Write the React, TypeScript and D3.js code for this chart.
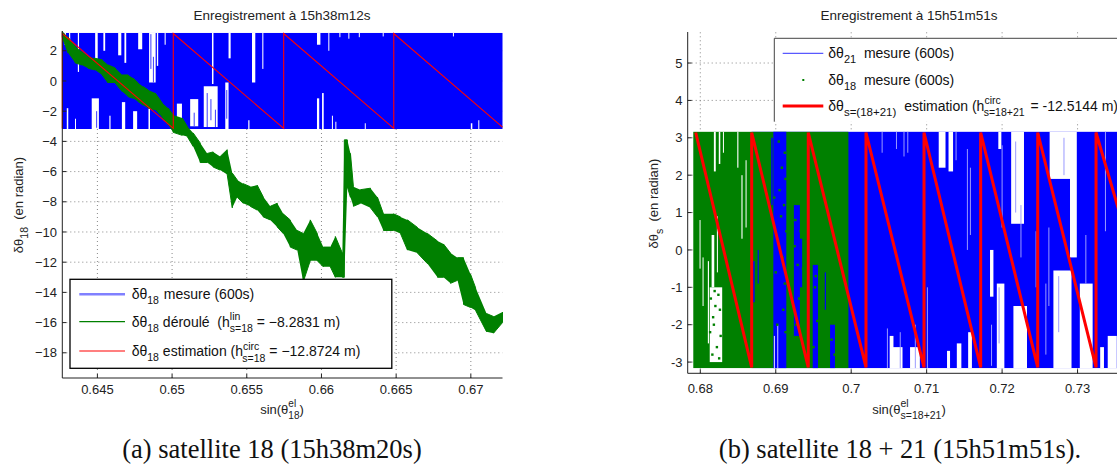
import React from "react";
import * as d3 from "d3";

// ---------------- Data ----------------
// Left panel (satellite 18)
const leftXTicks = [0.645, 0.65, 0.655, 0.66, 0.665, 0.67];
const leftXTickLabels = ["0.645", "0.65", "0.655", "0.66", "0.665", "0.67"];
const leftYTicks = [2, 0, -2, -4, -6, -8, -10, -12, -14, -16, -18];

const leftBlueX = [0.64265, 0.67212];
const leftBlueY = [-3.18, 3.18];
// white gaps in the wrapped measurement: [x0, x1, low, high]
const leftBlueGaps: number[][] = [
  [0.64279, 0.6429, 2.4, 3.4], [0.6431, 0.64318, 2.7, 3.4], [0.64369, 0.64377, 0.6, 3.4],
  [0.64485, 0.64502, 1.3, 3.4], [0.6454, 0.64552, 2.0, 3.4], [0.64639, 0.6466, 1.7, 3.4],
  [0.64681, 0.64693, 1.2, 3.4], [0.64773, 0.648, 2.1, 3.4], [0.64846, 0.6489, -0.1, 3.4],
  [0.64898, 0.64907, 1.0, 3.4], [0.6495, 0.64957, 2.4, 3.4],
  [0.64295, 0.64305, -3.4, -1.8], [0.64462, 0.6451, -3.4, -1.15], [0.64664, 0.64686, -3.4, -1.4],
  [0.64739, 0.64766, -3.4, -2.0], [0.64842, 0.64852, -3.4, -1.6], [0.6458, 0.64588, -3.4, -2.3],
  [0.6435, 0.64356, -3.4, -2.5], [0.65032, 0.65066, -3.4, -1.5], [0.65121, 0.65175, -3.0, -1.2],
  [0.65212, 0.65305, -3.05, -0.35], [0.65267, 0.65277, -0.2, 3.4], [0.65356, 0.65378, -3.4, -0.1],
  [0.65378, 0.65392, 1.5, 3.4], [0.65535, 0.65557, -0.1, 3.4], [0.6551, 0.65518, -3.4, -2.6],
  [0.65604, 0.65611, 0.8, 3.4], [0.6597, 0.65993, 2.4, 3.4], [0.66046, 0.6605, 2.0, 3.4],
  [0.6597, 0.65985, -3.4, -1.15], [0.66004, 0.66015, -3.4, -0.8], [0.6607, 0.66075, -3.4, -2.3],
  [0.66093, 0.66098, -3.4, -2.7], [0.6618, 0.66185, 2.8, 3.4], [0.6629, 0.66295, -3.4, -2.8],
  [0.67, 0.6701, -3.4, -2.8], [0.6705, 0.67055, -3.4, -2.6], [0.6612, 0.66125, 2.9, 3.4],
  [0.6625, 0.66255, 2.9, 3.4], [0.6641, 0.66415, 2.95, 3.4], [0.6688, 0.66885, 2.95, 3.4],
];
// thin bluish streaks inside the white gaps
const leftBlueStreaks: number[][] = [
  [0.65235, -3.05, -0.8], [0.6526, -2.6, -1.2], [0.6529, -3.05, -1.9], [0.64858, 0.8, 3.1],
  [0.64875, -0.1, 1.6], [0.64495, -3.1, -2.0], [0.65148, -3.0, -2.1], [0.65366, -2.5, -0.6],
];

// unwrapped phase (green), envelope of the noisy trace
const leftGreenX = [
  0.64265, 0.64304, 0.64351, 0.64395, 0.64438, 0.64485, 0.64532, 0.64572, 0.64619, 0.64666,
  0.64706, 0.6474, 0.64773, 0.64807, 0.6484, 0.64887, 0.64934, 0.64974, 0.65007, 0.65068,
  0.65101, 0.65141, 0.65188, 0.65235, 0.65275, 0.65322, 0.65369, 0.65403, 0.65436, 0.65476,
  0.65523, 0.6557, 0.6561, 0.65657, 0.65704, 0.65744, 0.65791, 0.65838, 0.65878, 0.65925,
  0.65972, 0.66012, 0.66059, 0.66093, 0.6614, 0.66153, 0.66173, 0.66194, 0.66214, 0.66261,
  0.66328, 0.66375, 0.66415, 0.66482, 0.66529, 0.66576, 0.66643, 0.6671, 0.66777, 0.66817,
  0.66864, 0.66911, 0.66951, 0.66998, 0.67032, 0.67105, 0.67152, 0.67212,
];
const leftGreenLo = [
  2.9, 1.85, 1.2, 1.06, 0.84, 0.73, 0.4, -0.13, -0.13, -0.7,
  -1.04, -1.15, -1.37, -1.6, -1.8, -1.9, -2.4, -2.9, -3.4, -3.6,
  -3.67, -4.33, -5.4, -5.4, -5.7, -5.9, -6.2, -8.4, -7.7, -8.1,
  -8.3, -8.55, -9.0, -9.2, -9.67, -10.1, -11.0, -11.2, -13.3, -11.9,
  -11.9, -12.3, -12.3, -13.0, -13.0, -13.0, -7.0, -7.7, -8.3, -8.1,
  -8.4, -9.0, -9.9, -9.9, -10.1, -11.2, -11.4, -12.1, -13.0, -13.0,
  -13.4, -13.2, -14.8, -15.0, -15.2, -16.6, -16.7, -16.0,
];
const leftGreenHi = [
  3.3, 2.9, 2.3, 1.94, 1.6, 1.5, 1.4, 1.06, 0.86, 0.4,
  0.4, 0.18, -0.13, -0.38, -0.6, -0.8, -1.46, -1.8, -2.25, -2.45,
  -3.0, -3.44, -4.1, -4.8, -4.7, -5.0, -4.55, -6.1, -6.55, -6.8,
  -7.0, -6.9, -7.67, -8.3, -8.1, -8.8, -9.2, -9.9, -10.1, -9.2,
  -10.1, -11.0, -11.0, -10.3, -11.4, -3.9, -3.9, -4.8, -7.0, -7.2,
  -7.1, -7.7, -8.8, -8.8, -9.0, -9.2, -9.7, -10.1, -10.6, -10.8,
  -11.4, -11.7, -11.7, -12.8, -13.7, -15.4, -15.6, -15.3,
];

// circular estimation (red sawtooth), vertices
const leftRedX = [0.64265, 0.64265, 0.65008, 0.65008, 0.65747, 0.65747, 0.66484, 0.66484, 0.67212];
const leftRedY = [-3.1416, 3.1416, -3.1416, 3.1416, -3.1416, 3.1416, -3.1416, 3.1416, -3.06];

// Right panel (satellites 18 + 21)
const rightXTicks = [0.68, 0.69, 0.7, 0.71, 0.72, 0.73];
const rightXTickLabels = ["0.68", "0.69", "0.7", "0.71", "0.72", "0.73"];
const rightYTicks = [-3, -2, -1, 0, 1, 2, 3, 4, 5];

const rightBlueX = [0.6868, 0.7365];
const rightBlueY = [-3.16, 3.16];
const rightGreenX = [0.67907, 0.69963];
const rightGreenY = [-3.16, 3.16];

const rightGreenWhiteHoles: number[][] = [
  [0.68125, 0.6829, -3.0, -1.0], [0.6815, 0.68185, -1.0, 0.4], [0.681, 0.68115, -2.5, -0.3],
  [0.6799, 0.68, -0.5, 0.8], [0.6803, 0.6804, -1.5, -0.2], [0.6818, 0.68205, 2.1, 3.2],
  [0.68245, 0.68265, 2.3, 3.2], [0.6849, 0.68505, 2.2, 3.2], [0.68545, 0.6856, 0.3, 2.0],
  [0.686, 0.68612, 0.6, 2.4], [0.683, 0.6831, 2.6, 3.2], [0.6822, 0.6823, -0.6, 0.9],
];
const rightGreenBlueHoles: number[][] = [
  [0.68968, 0.6914, -3.16, 3.16], [0.687, 0.6872, -1.4, -0.3], [0.6876, 0.68775, -0.9, 0.0],
  [0.6924, 0.6932, -2.3, 1.2], [0.6932, 0.6935, -1.0, 0.3], [0.6949, 0.6956, -3.16, -0.4],
  [0.6972, 0.69785, -3.16, -2.0], [0.6965, 0.69665, -1.6, -0.6], [0.6894, 0.6896, 1.2, 3.0],
];
const rightGreenSpecksX = [
  0.6912, 0.6913, 0.6911, 0.6914, 0.6909, 0.6912, 0.691, 0.6913, 0.6907, 0.6904, 0.69,
  0.6926, 0.6929, 0.6931, 0.6927, 0.6925, 0.6933, 0.6952, 0.6955, 0.695, 0.6974, 0.6978,
  0.6905, 0.6902, 0.6916, 0.6908, 0.6898, 0.6921, 0.6936, 0.6953,
  0.6814, 0.6818, 0.6822, 0.6826, 0.6816, 0.6824, 0.682, 0.6827, 0.6813, 0.6819, 0.6825, 0.6817,
];
const rightGreenSpecksY = [
  2.6, 1.9, 1.2, 0.5, -0.2, -0.9, -1.6, -2.2, 0.9, 2.9, -0.6,
  0.8, -0.4, -1.3, -2.0, 0.1, 0.5, -1.0, -1.9, -2.6, -2.4, -2.8,
  1.6, -2.0, -0.3, 2.2, 1.4, -1.7, -0.5, -0.7,
  -1.3, -2.0, -2.6, -1.6, -2.8, -1.2, -1.5, -2.3, -2.2, -1.1, -2.9, -1.8,
];
const rightBlueGaps: number[][] = [
  [0.7054, 0.7068, -3.2, -2.6], [0.7051, 0.7056, -3.2, -2.3], [0.7078, 0.7091, -3.2, -2.6],
  [0.7116, 0.7125, 2.2, 3.2], [0.7127, 0.7131, -3.2, -2.7], [0.7129, 0.7135, 2.1, 3.2],
  [0.714, 0.7146, -3.2, -2.5], [0.7155, 0.716, -3.2, -2.2], [0.7184, 0.71885, -1.25, 0.0],
  [0.7193, 0.7203, -3.2, -0.9], [0.7195, 0.7199, 2.7, 3.2], [0.7212, 0.7229, 0.7, 3.2],
  [0.7215, 0.7233, -3.2, -1.5], [0.7263, 0.729, 1.9, 3.2], [0.729, 0.7299, -0.2, 3.2],
  [0.7268, 0.7292, -3.2, -0.55], [0.7303, 0.732, -3.2, -0.9], [0.733, 0.7335, -3.2, -2.6],
  [0.734, 0.7352, -3.2, -2.3], [0.68975, 0.6899, -3.2, -2.3], [0.6902, 0.6903, -3.2, -2.0],
];
const rightBlueLight: number[][] = [
  [0.7154, 0.0, 2.7], [0.7158, 0.4, 2.2], [0.7171, 1.5, 3.1], [0.7186, -3.1, -2.0],
  [0.72, 0.6, 2.8], [0.7245, -1.0, 0.5], [0.7258, -2.8, -0.9], [0.707, 2.5, 3.16],
  [0.7075, 2.6, 3.16], [0.706, 2.7, 3.16], [0.7065, -3.16, -2.2], [0.7085, -3.16, -2.0],
  [0.7101, -3.16, -1.0], [0.7041, 2.6, 3.16], [0.7048, -3.16, -2.1], [0.7262, -1.5, 0.6],
  [0.7311, -0.9, 0.4], [0.7337, 0.5, 3.16], [0.7225, -0.2, 1.2], [0.7139, 2.4, 3.16],
  [0.7218, 1.0, 2.9], [0.7275, -2.2, -0.7], [0.7282, 2.0, 3.0], [0.7196, -2.5, -1.0],
];

const rightRedX = [0.67939, 0.68681, 0.68681, 0.69431, 0.69431, 0.70196, 0.70196, 0.70965, 0.70965,
  0.71716, 0.71716, 0.72472, 0.72472, 0.73245, 0.73245, 0.7365];
const rightRedY = [3.1416, -3.1416, 3.1416, -3.1416, 3.1416, -3.1416, 3.1416, -3.1416, 3.1416,
  -3.1416, 3.1416, -3.1416, 3.1416, -3.1416, 3.1416, 0.35];

// ---------------- Component ----------------
const SANS = "'Liberation Sans', Arial, Helvetica, sans-serif";
const SERIF = "'Liberation Serif', 'Times New Roman', serif";
const BLUE = "#0000ff";
const GREEN = "#008000";
const RED = "#ff0000";
const SP = "\u00a0";

export default function App() {
  const xL = d3.scaleLinear().domain([0.64265, 0.67212]).range([62.3, 502.5]);
  const yL = d3.scaleLinear().domain([-19.67, 3.31]).range([378, 31]);
  const xR = d3.scaleLinear().domain([0.67833, 0.7365]).range([687.7, 687.7 + (0.7365 - 0.67833) * 7545]);
  const yR = d3.scaleLinear().domain([-3.3, 5.83]).range([373.3, 32]);

  const rectFrom = (xs: any, ys: any, g: number[], lo: number, hi: number, fill: string, key: string) => {
    const a = Math.max(g[2], lo);
    const b = Math.min(g[3], hi);
    const x0 = xs(g[0]);
    const w = Math.max(1, xs(g[1]) - x0);
    return <rect key={key} x={x0} y={ys(b)} width={w} height={Math.max(0, ys(a) - ys(b))} fill={fill} />;
  };

  // green envelope + zigzag trace
  const greenPts = leftGreenX.map((x, i) => ({ x, lo: leftGreenLo[i], hi: leftGreenHi[i] }));
  const greenArea = d3.area<any>().x((d) => xL(d.x)).y0((d) => yL(d.lo)).y1((d) => yL(d.hi))(greenPts) || "";
  const zig: [number, number][] = [];
  greenPts.forEach((d, i) => {
    if (i % 2 === 0) { zig.push([xL(d.x), yL(d.hi)]); zig.push([xL(d.x), yL(d.lo)]); }
    else { zig.push([xL(d.x), yL(d.lo)]); zig.push([xL(d.x), yL(d.hi)]); }
  });
  const zigPath = d3.line()(zig) || "";

  const redLPath = d3.line<number>().x((_, i) => xL(leftRedX[i])).y((v) => yL(v))(leftRedY) || "";
  const redRPath = d3.line<number>().x((_, i) => xR(rightRedX[i])).y((v) => yR(v))(rightRedY) || "";

  const grid = { stroke: "#7a7a7a", strokeWidth: 0.9, strokeDasharray: "1,3" };
  const LX0 = xL.range()[0], LX1 = xL.range()[1], LY0 = yL.range()[0], LY1 = yL.range()[1];
  const RX0 = xR.range()[0], RX1 = 1117, RY0 = yR.range()[0], RY1 = yR.range()[1];

  return (
    <svg width={1117} height={469} viewBox="0 0 1117 469"
      style={{ position: "absolute", left: 0, top: 0, background: "#fff" }}
      fontFamily={SANS}>
      <rect x={0} y={0} width={1117} height={469} fill="#fff" />

      {/* ======== LEFT PANEL ======== */}
      <g>
        {leftXTicks.map((t, i) => (
          <line key={"lgx" + i} x1={xL(t)} x2={xL(t)} y1={LY0} y2={LY1} {...grid} />
        ))}
        {leftYTicks.map((t, i) => (
          <line key={"lgy" + i} x1={LX0} x2={LX1} y1={yL(t)} y2={yL(t)} {...grid} />
        ))}
        <rect x={xL(leftBlueX[0])} width={xL(leftBlueX[1]) - xL(leftBlueX[0])}
          y={yL(leftBlueY[1])} height={yL(leftBlueY[0]) - yL(leftBlueY[1])} fill={BLUE} />
        {leftBlueGaps.map((g, i) => rectFrom(xL, yL, g, leftBlueY[0], leftBlueY[1], "#fff", "lbg" + i))}
        {leftBlueStreaks.map((g, i) => (
          <line key={"lbs" + i} x1={xL(g[0])} x2={xL(g[0])} y1={yL(g[1])} y2={yL(g[2])} stroke="#3a3aff" strokeWidth={1} />
        ))}
        <path d={greenArea} fill={GREEN} stroke="none" />
        <path d={zigPath} fill="none" stroke={GREEN} strokeWidth={1} />
        <path d={redLPath} fill="none" stroke={RED} strokeWidth={1.1} />

        {/* axes */}
        <line x1={LX0} x2={LX0} y1={LY1} y2={LY0} stroke="#222" strokeWidth={1} />
        <line x1={LX0} x2={LX1} y1={LY0} y2={LY0} stroke="#222" strokeWidth={1} />
        {leftXTicks.map((t, i) => (
          <g key={"lxt" + i}>
            <line x1={xL(t)} x2={xL(t)} y1={LY0} y2={LY0 - 4} stroke="#222" />
            <text x={xL(t)} y={394} textAnchor="middle" fontSize={13} fill="#222">{leftXTickLabels[i]}</text>
          </g>
        ))}
        {leftYTicks.map((t, i) => (
          <g key={"lyt" + i}>
            <line x1={LX0} x2={LX0 + 4} y1={yL(t)} y2={yL(t)} stroke="#222" />
            <text x={57} y={yL(t)} dy="0.36em" textAnchor="end" fontSize={13} fill="#222">
              {t < 0 ? "\u2212" + Math.abs(t) : String(t)}
            </text>
          </g>
        ))}

        <text x={282} y={20} textAnchor="middle" fontSize={13.5} fill="#222">Enregistrement à 15h38m12s</text>
        <text x={282} y={414} textAnchor="middle" fontSize={13} fill="#222">
          sin(θ<tspan fontSize={10} dy={-7}>el</tspan><tspan fontSize={10} dx={-7.8} dy={12}>18</tspan><tspan dy={-5}>)</tspan>
        </text>
        <text transform="translate(23,205) rotate(-90)" textAnchor="middle" fontSize={13} fill="#222">
          δθ<tspan fontSize={10.5} dy={5}>18</tspan><tspan dy={-5}>{SP + SP + "(en radian)"}</tspan>
        </text>

        {/* legend */}
        <rect x={70} y={279.3} width={321.8} height={89} fill="#fff" stroke="#000" strokeWidth={1.3} />
        <line x1={79.3} x2={125} y1={294.3} y2={294.3} stroke="#8080ff" strokeWidth={2.5} />
        <line x1={79.3} x2={125} y1={321.7} y2={321.7} stroke={GREEN} strokeWidth={1.2} />
        <line x1={79.3} x2={125} y1={351} y2={351} stroke={RED} strokeWidth={1.1} />
        <g fontSize={14} fill="#111">
          <text x={131.7} y={299}>
            δθ<tspan fontSize={10.5} dy={5}>18</tspan><tspan dy={-5} dx={1}>{SP + "mesure (600s)"}</tspan>
          </text>
          <text x={131.7} y={326.5}>
            δθ<tspan fontSize={10.5} dy={5}>18</tspan><tspan dy={-5}>{SP + "déroulé" + SP + SP + "(h"}</tspan>
            <tspan fontSize={10.5} dy={-6.5}>lin</tspan>
            <tspan fontSize={10.5} dx={-10.5} dy={12}>s=18</tspan>
            <tspan dy={-5.5}>{SP + "=" + SP + "\u22128.2831 m)"}</tspan>
          </text>
          <text x={131.7} y={356}>
            δθ<tspan fontSize={10.5} dy={5}>18</tspan><tspan dy={-5}>{SP + "estimation (h"}</tspan>
            <tspan fontSize={10.5} dy={-6.5}>circ</tspan>
            <tspan fontSize={10.5} dx={-17} dy={12}>s=18</tspan>
            <tspan dy={-5.5}>{SP + "=" + SP + "\u221212.8724 m)"}</tspan>
          </text>
        </g>
      </g>

      {/* ======== RIGHT PANEL ======== */}
      <g>
        {rightXTicks.map((t, i) => (
          <line key={"rgx" + i} x1={xR(t)} x2={xR(t)} y1={RY0} y2={RY1} {...grid} />
        ))}
        {rightYTicks.map((t, i) => (
          <line key={"rgy" + i} x1={RX0} x2={RX1} y1={yR(t)} y2={yR(t)} {...grid} />
        ))}
        <rect x={xR(rightBlueX[0])} width={xR(rightBlueX[1]) - xR(rightBlueX[0])}
          y={yR(rightBlueY[1])} height={yR(rightBlueY[0]) - yR(rightBlueY[1])} fill={BLUE} />
        {rightBlueGaps.map((g, i) => rectFrom(xR, yR, g, rightBlueY[0], rightBlueY[1], "#fff", "rbg" + i))}
        {rightBlueLight.map((g, i) => (
          <line key={"rbl" + i} x1={xR(g[0])} x2={xR(g[0])} y1={yR(g[1])} y2={yR(g[2])} stroke="#9a9aff" strokeWidth={1} />
        ))}
        <rect x={xR(rightGreenX[0])} width={xR(rightGreenX[1]) - xR(rightGreenX[0])}
          y={yR(rightGreenY[1])} height={yR(rightGreenY[0]) - yR(rightGreenY[1])} fill={GREEN} />
        {rightGreenWhiteHoles.map((g, i) => rectFrom(xR, yR, g, rightGreenY[0], rightGreenY[1], "#fff", "rgw" + i))}
        {rightGreenBlueHoles.map((g, i) => rectFrom(xR, yR, g, rightGreenY[0], rightGreenY[1], BLUE, "rgb" + i))}
        {rightBlueGaps.filter((g) => g[0] < rightGreenX[1]).map((g, i) =>
          rectFrom(xR, yR, g, rightBlueY[0], rightBlueY[1], "#c8c8ff", "rbg2" + i))}
        {rightGreenSpecksX.map((x, i) => (
          <rect key={"rgs" + i} x={xR(x) - 1.2} y={yR(rightGreenSpecksY[i]) - 1.2} width={2.4} height={2.4} fill={GREEN} />
        ))}
        <path d={redRPath} fill="none" stroke={RED} strokeWidth={3} />

        <line x1={RX0} x2={RX0} y1={RY1} y2={RY0} stroke="#222" strokeWidth={1} />
        <line x1={RX0} x2={RX1} y1={RY0} y2={RY0} stroke="#222" strokeWidth={1} />
        {rightXTicks.map((t, i) => (
          <g key={"rxt" + i}>
            <line x1={xR(t)} x2={xR(t)} y1={RY0} y2={RY0 - 4} stroke="#222" />
            <text x={xR(t)} y={392.5} textAnchor="middle" fontSize={13} fill="#222">{rightXTickLabels[i]}</text>
          </g>
        ))}
        {rightYTicks.map((t, i) => (
          <g key={"ryt" + i}>
            <line x1={RX0} x2={RX0 + 4} y1={yR(t)} y2={yR(t)} stroke="#222" />
            <text x={682.5} y={yR(t)} dy="0.36em" textAnchor="end" fontSize={13} fill="#222">{String(t)}</text>
          </g>
        ))}

        <text x={909} y={20} textAnchor="middle" fontSize={13.5} fill="#222">Enregistrement à 15h51m51s</text>
        <text x={909} y={414} textAnchor="middle" fontSize={13} fill="#222">
          sin(θ<tspan fontSize={10.5} dy={-7}>el</tspan><tspan fontSize={10.5} dx={-8} dy={12}>s=18+21</tspan><tspan dy={-5}>)</tspan>
        </text>
        <text transform="translate(658,203.5) rotate(-90)" textAnchor="middle" fontSize={13} fill="#222">
          δθ<tspan fontSize={10.5} dy={5}>s</tspan><tspan dy={-5}>{SP + SP + "(en radian)"}</tspan>
        </text>

        {/* legend */}
        <rect x={774.3} y={38.3} width={420} height={83.4} fill="#fff" stroke="none" />
        <line x1={774.3} x2={1117} y1={38.3} y2={38.3} stroke="#444" strokeWidth={1} />
        <line x1={774.3} x2={774.3} y1={38.3} y2={121.7} stroke="#444" strokeWidth={1} />
        <line x1={782.7} x2={823.3} y1={53.3} y2={53.3} stroke="#3030ff" strokeWidth={1} />
        <rect x={802.3} y={79} width={2} height={2} fill={GREEN} />
        <line x1={782.7} x2={823.3} y1={106} y2={106} stroke={RED} strokeWidth={3} />
        <g fontSize={14} fill="#111">
          <text x={828.3} y={58}>
            δθ<tspan fontSize={11} dy={5}>21</tspan><tspan dy={-5}>{SP + SP + "mesure (600s)"}</tspan>
          </text>
          <text x={828.3} y={84.5}>
            δθ<tspan fontSize={11} dy={5}>18</tspan><tspan dy={-5}>{SP + SP + "mesure (600s)"}</tspan>
          </text>
          <text x={828.3} y={110.5}>
            δθ<tspan fontSize={11.5} dy={5}>s=(18+21)</tspan><tspan dy={-5} dx={4}>{SP + "estimation (h"}</tspan>
            <tspan fontSize={10.5} dy={-6.5}>circ</tspan>
            <tspan fontSize={10.5} dx={-17} dy={12}>s=18+21</tspan>
            <tspan dy={-5.5} dx={2}>{SP + "=" + SP + "-12.5144 m)"}</tspan>
          </text>
        </g>
      </g>

      {/* captions */}
      <text x={272} y={458} textAnchor="middle" fontFamily={SERIF} fontSize={26.5} fill="#111">
        (a) satellite 18 (15h38m20s)
      </text>
      <text x={900} y={458} textAnchor="middle" fontFamily={SERIF} fontSize={26.5} fill="#111">
        (b) satellite 18 + 21 (15h51m51s).
      </text>
    </svg>
  );
}
